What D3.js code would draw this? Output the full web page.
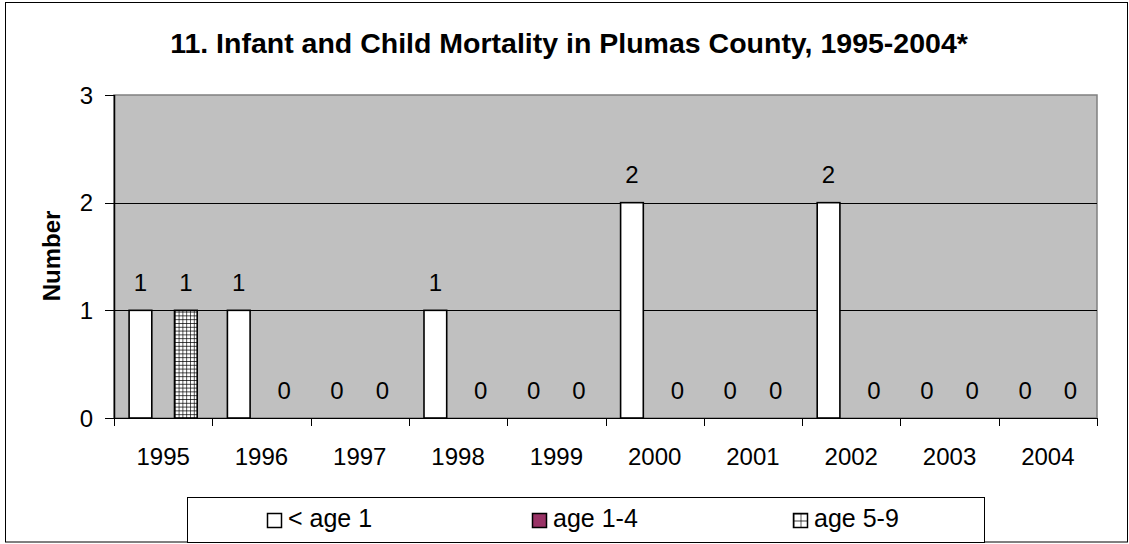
<!DOCTYPE html>
<html>
<head>
<meta charset="utf-8">
<script src="https://cdn.jsdelivr.net/npm/d3@7"></script>
<style>
  body { margin: 0; background: #fff; }
  text { font-family: "Liberation Sans", Arial, sans-serif; }
</style>
</head>
<body>
<div id="chart"></div>
<script>
// data
var years = ["1995", "1996", "1997", "1998", "1999", "2000", "2001", "2002", "2003", "2004"];
var seriesNames = ["< age 1", "age 1-4", "age 5-9"];
var under1 = [1, 1, 0, 1, 0, 2, 0, 2, 0, 0];
var age1to4 = [null, null, null, null, null, null, null, null, null, null]; // no values shown
var age5to9 = [1, 0, 0, 0, 0, 0, 0, 0, 0, 0];
var yTicks = [0, 1, 2, 3];

var svgWidth = 1129;
var svgHeight = 544;
var plot = { left: 114, top: 95, right: 1097, bottom: 418 };

var svg = d3.select("#chart")
  .append("svg")
  .attr("width", svgWidth)
  .attr("height", svgHeight);

// hatch patterns for age 5-9 (bars and legend key)
var defs = svg.append("defs");
function gridPattern(id, size, ox, oy) {
  var pat = defs.append("pattern")
    .attr("id", id)
    .attr("patternUnits", "userSpaceOnUse")
    .attr("x", ox).attr("y", oy)
    .attr("width", size)
    .attr("height", size);
  pat.append("rect").attr("width", size).attr("height", size).attr("fill", "#fff");
  pat.append("path").attr("d", `M0,0H${size}M0,0V${size}`).attr("stroke", "#000").attr("stroke-width", 1.3);
}
gridPattern("grid", 3.8, 0, 0);

// outer border
svg.append("rect")
  .attr("x", 5.5).attr("y", 2.5)
  .attr("width", 1122).attr("height", 539.5)
  .attr("fill", "#fff").attr("stroke", "#000").attr("stroke-width", 1);

// title
svg.append("text")
  .attr("x", 569).attr("y", 53)
  .attr("text-anchor", "middle")
  .style("font-size", "28.5px").style("font-weight", "bold")
  .text("11. Infant and Child Mortality in Plumas County, 1995-2004*");

var outer = d3.scaleBand().domain(years).range([plot.left, plot.right]);
var y = d3.scaleLinear().domain([0, 3]).range([plot.bottom, plot.top]);
var catW = outer.bandwidth();
var barW = 22.7;
var groupOffset = (catW - 3 * barW) / 2;
var xb = d3.scaleBand().domain(seriesNames).range([groupOffset, groupOffset + 3 * barW]);

// plot background
svg.append("rect")
  .attr("x", plot.left).attr("y", plot.top)
  .attr("width", plot.right - plot.left).attr("height", plot.bottom - plot.top)
  .attr("fill", "#c0c0c0").attr("stroke", "#808080").attr("stroke-width", 1.5);

// gridlines
svg.append("g").selectAll("line")
  .data(yTicks.filter(d => d > 0 && d < 3))
  .enter().append("line")
  .attr("x1", plot.left).attr("x2", plot.right)
  .attr("y1", d => Math.round(y(d)) + 0.5).attr("y2", d => Math.round(y(d)) + 0.5)
  .attr("stroke", "#000").attr("stroke-width", 1);

// bars
var series = [
  { name: seriesNames[0], values: under1, fill: "#fff" },
  { name: seriesNames[1], values: age1to4, fill: "#993366" },
  { name: seriesNames[2], values: age5to9, fill: "url(#grid)" }
];

series.forEach(function(s) {
  var g = svg.append("g");
  var pts = years.map((yr, i) => ({ year: yr, v: s.values[i] })).filter(d => d.v !== null);
  g.selectAll("rect")
    .data(pts.filter(d => d.v > 0))
    .enter().append("rect")
    .attr("x", d => outer(d.year) + xb(s.name))
    .attr("y", d => y(d.v))
    .attr("width", xb.bandwidth())
    .attr("height", d => y(0) - y(d.v))
    .attr("fill", s.fill)
    .attr("stroke", "#000").attr("stroke-width", 1.6);
  g.selectAll("text")
    .data(pts)
    .enter().append("text")
    .attr("x", d => outer(d.year) + xb(s.name) + xb.bandwidth() / 2)
    .attr("y", d => y(d.v) - 19.5)
    .attr("text-anchor", "middle")
    .style("font-size", "24px")
    .text(d => d.v);
});

// x axis
var xAxis = svg.append("g")
  .attr("transform", `translate(0, ${plot.bottom})`);
xAxis.append("line")
  .attr("x1", plot.left).attr("x2", plot.right)
  .attr("y1", 0.5).attr("y2", 0.5).attr("stroke", "#000");
xAxis.selectAll(".tk")
  .data(d3.range(years.length + 1))
  .enter().append("line")
  .attr("x1", d => Math.round(plot.left + d * catW) + 0.5)
  .attr("x2", d => Math.round(plot.left + d * catW) + 0.5)
  .attr("y1", 0).attr("y2", 8).attr("stroke", "#000");
xAxis.selectAll(".lbl")
  .data(years)
  .enter().append("text")
  .attr("x", d => outer(d) + catW / 2)
  .attr("y", 47)
  .attr("text-anchor", "middle")
  .style("font-size", "24px")
  .text(d => d);

// y axis
var yAxis = svg.append("g");
yAxis.append("line")
  .attr("x1", plot.left + 0.5).attr("x2", plot.left + 0.5)
  .attr("y1", plot.top).attr("y2", plot.bottom).attr("stroke", "#000").attr("stroke-width", 1.5);
yAxis.selectAll(".tk")
  .data(yTicks)
  .enter().append("line")
  .attr("x1", plot.left - 9).attr("x2", plot.left)
  .attr("y1", d => Math.round(y(d)) + 0.5).attr("y2", d => Math.round(y(d)) + 0.5)
  .attr("stroke", "#000");
yAxis.selectAll(".lbl")
  .data(yTicks)
  .enter().append("text")
  .attr("x", 93).attr("y", d => y(d) + 8.5)
  .attr("text-anchor", "end")
  .style("font-size", "24px")
  .text(d => d);

svg.append("text")
  .attr("transform", "translate(60, 256) rotate(-90)")
  .attr("text-anchor", "middle")
  .style("font-size", "24px").style("font-weight", "bold")
  .text("Number");

// legend
var legX = [267, 532, 793];
gridPattern("gridKey", 7, legX[2] + 0.5, 513.5);
var legendFills = ["#fff", "#993366", "url(#gridKey)"];
var leg = svg.append("g");
leg.append("rect")
  .attr("x", 187.5).attr("y", 497.5)
  .attr("width", 797).attr("height", 45)
  .attr("fill", "#fff").attr("stroke", "#000");
series.forEach(function(s, i) {
  leg.append("rect")
    .attr("x", legX[i] + 0.5).attr("y", 513.5)
    .attr("width", 14).attr("height", 14)
    .attr("fill", legendFills[i]).attr("stroke", "#000").attr("stroke-width", 1.5);
  leg.append("text")
    .attr("x", legX[i] + 21).attr("y", 527)
    .style("font-size", "25px")
    .text(s.name);
});
</script>
</body>
</html>
